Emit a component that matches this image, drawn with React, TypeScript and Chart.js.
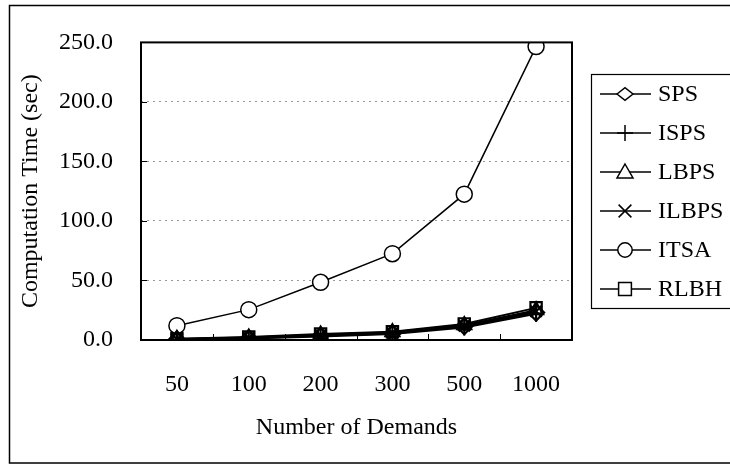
import React, { useEffect, useRef } from "react";
import { Chart, registerables } from "chart.js";

Chart.register(...registerables);

const categories = ["50", "100", "200", "300", "500", "1000"];
const seriesNames = ["SPS", "ISPS", "LBPS", "ILBPS", "ITSA", "RLBH"];
const pointStyles = ["rectRot", "cross", "triangle", "crossRot", "circle", "rect"];
const spsValues = [0.5, 1.5, 3.5, 5.5, 11.5, 23];
const ispsValues = [0.4, 1.2, 3.0, 5.0, 10.5, 22];
const lbpsValues = [0.8, 2.0, 4.5, 6.5, 12.5, 25];
const ilbpsValues = [0.6, 1.8, 4.0, 6.0, 12.0, 24];
const itsaValues = [12, 25.5, 48.5, 72.5, 122.5, 246.5];
const rlbhValues = [1.0, 2.5, 5.0, 7.0, 13.5, 27];
const yTicks = [0, 50, 100, 150, 200, 250];

const FONT = "'Liberation Serif', 'Times New Roman', serif";

function drawMarker(ctx: CanvasRenderingContext2D, style: string, x: number, y: number, r: number) {
  ctx.beginPath();
  switch (style) {
    case "circle":
      ctx.arc(x, y, r * 0.9, 0, Math.PI * 2);
      ctx.fill();
      ctx.stroke();
      break;
    case "rectRot":
      ctx.moveTo(x - r, y);
      ctx.lineTo(x, y - r * 0.8);
      ctx.lineTo(x + r, y);
      ctx.lineTo(x, y + r * 0.8);
      ctx.closePath();
      ctx.fill();
      ctx.stroke();
      break;
    case "rect":
      ctx.rect(x - r * 0.8, y - r * 0.8, r * 1.6, r * 1.6);
      ctx.fill();
      ctx.stroke();
      break;
    case "triangle":
      ctx.moveTo(x, y - r);
      ctx.lineTo(x + r, y + r * 0.75);
      ctx.lineTo(x - r, y + r * 0.75);
      ctx.closePath();
      ctx.fill();
      ctx.stroke();
      break;
    case "cross":
      ctx.moveTo(x, y - r);
      ctx.lineTo(x, y + r);
      ctx.moveTo(x - r, y);
      ctx.lineTo(x + r, y);
      ctx.stroke();
      break;
    case "crossRot":
      ctx.moveTo(x - r * 0.8, y - r * 0.8);
      ctx.lineTo(x + r * 0.8, y + r * 0.8);
      ctx.moveTo(x + r * 0.8, y - r * 0.8);
      ctx.lineTo(x - r * 0.8, y + r * 0.8);
      ctx.stroke();
      break;
  }
}

const framePlugin = {
  id: "frameDecor",
  afterDatasetsDraw(chart: any) {
    const ctx = chart.ctx as CanvasRenderingContext2D;
    const { left, right, top, bottom } = chart.chartArea;
    const xs = chart.scales.x;
    const ys = chart.scales.y;
    ctx.save();
    ctx.strokeStyle = "#000";
    ctx.lineWidth = 2;
    ctx.strokeRect(left, top, right - left, bottom - top);
    ctx.lineWidth = 1;
    ys.ticks.forEach((t: any) => {
      const py = Math.round(ys.getPixelForValue(t.value)) + 0.5;
      ctx.beginPath();
      ctx.moveTo(left, py);
      ctx.lineTo(left + 6, py);
      ctx.stroke();
    });
    for (let i = 0; i < categories.length - 1; i++) {
      const px = Math.round((xs.getPixelForValue(i) + xs.getPixelForValue(i + 1)) / 2) + 0.5;
      ctx.beginPath();
      ctx.moveTo(px, bottom);
      ctx.lineTo(px, bottom - 6);
      ctx.stroke();
    }
    ctx.restore();
  },
  afterDraw(chart: any) {
    const ctx = chart.ctx as CanvasRenderingContext2D;
    ctx.save();
    ctx.strokeStyle = "#000";
    ctx.lineWidth = 1.5;
    ctx.strokeRect(9.5, 5.5, 800, 457.5);
    const lx = 591.5;
    const ly = 74.5;
    const lh = 234;
    ctx.lineWidth = 1.2;
    ctx.strokeRect(lx, ly, 300, lh);
    const rowH = lh / chart.data.datasets.length;
    chart.data.datasets.forEach((ds: any, i: number) => {
      const cy = ly + rowH * (i + 0.5);
      ctx.strokeStyle = "#000";
      ctx.fillStyle = "#fff";
      ctx.lineWidth = 1.5;
      ctx.beginPath();
      ctx.moveTo(600, cy);
      ctx.lineTo(651, cy);
      ctx.stroke();
      drawMarker(ctx, ds.pointStyle, 625, cy, 8);
      ctx.fillStyle = "#000";
      ctx.font = `24px ${FONT}`;
      ctx.textAlign = "left";
      ctx.textBaseline = "middle";
      ctx.fillText(ds.label, 658, cy + 1);
    });
    ctx.restore();
  },
};

export default function App() {
  const canvasRef = useRef<HTMLCanvasElement | null>(null);

  useEffect(() => {
    document.body.style.margin = "0";
    const canvas = canvasRef.current;
    if (!canvas) return;
    const allValues = [spsValues, ispsValues, lbpsValues, ilbpsValues, itsaValues, rlbhValues];
    const chart = new Chart(canvas, {
      type: "line",
      data: {
        labels: categories,
        datasets: seriesNames.map((name, i) => ({
          label: name,
          data: allValues[i],
          borderColor: "#000",
          borderWidth: i === 4 ? 1.5 : 2,
          backgroundColor: i === 4 ? "#fff" : "rgba(255,255,255,0)",
          pointBackgroundColor: i === 4 ? "#fff" : "rgba(255,255,255,0)",
          pointBorderColor: "#000",
          pointBorderWidth: i === 4 ? 1.5 : 2.2,
          pointStyle: pointStyles[i] as any,
          pointRadius: 8,
          tension: 0,
          fill: false,
        })),
      },
      options: {
        responsive: false,
        animation: false,
        events: [],
        layout: { padding: { left: 0, right: 158, top: 35, bottom: 0 } },
        plugins: {
          legend: { display: false },
          tooltip: { enabled: false },
        },
        scales: {
          x: {
            type: "category",
            offset: true,
            grid: { display: false, drawTicks: false },
            border: { display: false },
            ticks: {
              color: "#000",
              font: { family: FONT, size: 24 },
              padding: 30,
              maxRotation: 0,
            },
            title: {
              display: true,
              text: "Number of Demands",
              color: "#000",
              font: { family: FONT, size: 24 },
              padding: { top: 0, bottom: 24 },
            },
            afterFit: (scale: any) => {
              scale.height = 126;
            },
          },
          y: {
            min: 0,
            max: 250,
            afterBuildTicks: (scale: any) => {
              scale.ticks = yTicks.map((v) => ({ value: v }));
            },
            grid: {
              display: true,
              drawTicks: false,
              color: "#999",
              lineWidth: 1,
            },
            border: { display: false, dash: [2, 4] },
            ticks: {
              color: "#000",
              font: { family: FONT, size: 24 },
              padding: 28,
              callback: (v: any) => Number(v).toFixed(1),
            },
            title: {
              display: true,
              text: "Computation Time (sec)",
              color: "#000",
              font: { family: FONT, size: 24 },
              padding: { top: 16, bottom: 0 },
            },
            afterFit: (scale: any) => {
              scale.width = 141;
            },
          },
        },
      },
      plugins: [framePlugin],
    });
    return () => chart.destroy();
  }, []);

  return (
    <div style={{ width: 730, height: 466, background: "#fff" }}>
      <canvas ref={canvasRef} width={730} height={466} style={{ display: "block" }} />
    </div>
  );
}
